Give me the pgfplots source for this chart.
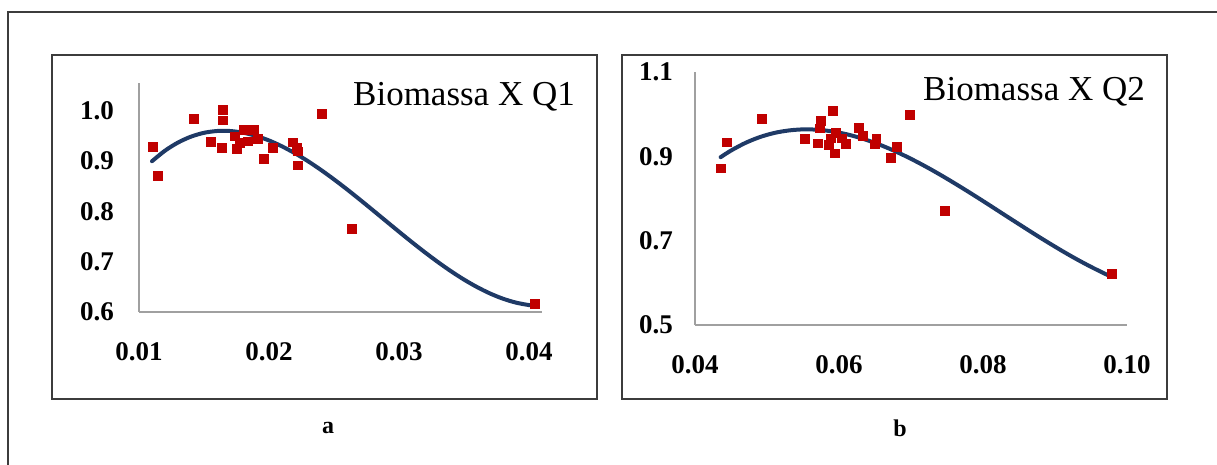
\documentclass[border=0pt]{standalone}
\usepackage{pgfplots}
\pgfplotsset{compat=1.18}
\usepackage{fontspec}
\setmainfont{Liberation Serif}
\definecolor{framec}{HTML}{3C3C3C}
\definecolor{axisgray}{HTML}{A0A0A0}
\definecolor{ptred}{HTML}{C00000}
\definecolor{curvec}{HTML}{1F3A66}
\pgfplotsset{
  panel/.style={
    scale only axis,
    anchor=south west,
    axis lines=left,
    axis line style={axisgray, line width=0.6pt, -},
    major tick length=0pt,
    scaled x ticks=false, scaled y ticks=false,
    ticklabel style={font=\bfseries\fontsize{13.5}{14}\selectfont, text=black},
    clip=false,
  },
  pts/.style={only marks, mark=square*, mark size=2.2pt, mark options={fill=ptred, draw=ptred, line width=0pt}},
  fit/.style={curvec, line width=2pt, smooth, no marks, line cap=round},
}
\begin{document}
\begin{tikzpicture}
\path[use as bounding box] (0,0) rectangle (608.5pt,232.5pt);
\draw[framec, line width=0.8pt] (4pt,-10pt) rectangle (620pt,226.5pt);
\draw[framec, line width=0.8pt] (26pt,33pt) rectangle (298.5pt,205pt);
\draw[framec, line width=0.8pt] (311pt,33pt) rectangle (583.5pt,205pt);

\begin{axis}[panel,
  at={(69.5pt,76.5pt)}, width=201.5pt, height=114.5pt,
  xmin=0.01, xmax=0.041, ymin=0.6, ymax=1.055,
  xtick={0.01,0.02,0.03,0.04}, xticklabels={0.01,0.02,0.03,0.04},
  ytick={0.6,0.7,0.8,0.9,1.0}, yticklabels={0.6,0.7,0.8,0.9,1.0},
  xticklabel style={yshift=-11.5pt},
  yticklabel style={xshift=-9pt},
]
\addplot[fit] coordinates {
(0.011,0.8996) (0.012,0.9205) (0.013,0.9367) (0.014,0.9484) (0.015,0.9560)
(0.016,0.9596) (0.017,0.9596) (0.018,0.9563) (0.019,0.9499) (0.020,0.9408)
(0.021,0.9291) (0.022,0.9153) (0.023,0.8996) (0.024,0.8822) (0.025,0.8635)
(0.026,0.8437) (0.027,0.8231) (0.028,0.8020) (0.029,0.7807) (0.030,0.7595)
(0.031,0.7386) (0.032,0.7184) (0.033,0.6991) (0.034,0.6810) (0.035,0.6644)
(0.036,0.6496) (0.037,0.6368) (0.038,0.6264) (0.039,0.6186) (0.040,0.6137)
(0.04044,0.6125)};
\addplot[pts] coordinates {
(0.01105,0.9274) (0.01146,0.8704) (0.01423,0.9831) (0.01551,0.9374) (0.01649,1.0016)
(0.01649,0.9803) (0.01636,0.9254) (0.01751,0.9235) (0.01738,0.9486) (0.01808,0.9618)
(0.01885,0.9618) (0.01841,0.9386) (0.01777,0.9353) (0.01918,0.9433) (0.01962,0.9036)
(0.02033,0.9254) (0.02182,0.9366) (0.02213,0.9254) (0.02225,0.9187) (0.02221,0.8909)
(0.02405,0.9930) (0.02636,0.7644) (0.04044,0.6153)};
\end{axis}

\begin{axis}[panel,
  at={(347.5pt,70pt)}, width=216pt, height=126.5pt,
  xmin=0.04, xmax=0.10, ymin=0.5, ymax=1.1,
  xtick={0.04,0.06,0.08,0.10}, xticklabels={0.04,0.06,0.08,0.10},
  ytick={0.5,0.7,0.9,1.1}, yticklabels={0.5,0.7,0.9,1.1},
  xticklabel style={yshift=-11.5pt},
  yticklabel style={xshift=-7.5pt},
]
\addplot[fit] coordinates {
(0.04356,0.8980) (0.045,0.9137) (0.047,0.9318) (0.049,0.9456) (0.051,0.9554)
(0.053,0.9613) (0.055,0.9639) (0.057,0.9631) (0.059,0.9593) (0.061,0.9526)
(0.063,0.9434) (0.065,0.9318) (0.067,0.9181) (0.069,0.9025) (0.071,0.8853)
(0.073,0.8667) (0.075,0.8469) (0.077,0.8262) (0.079,0.8049) (0.081,0.7831)
(0.083,0.7610) (0.085,0.7391) (0.087,0.7173) (0.089,0.6961) (0.091,0.6756)
(0.093,0.6561) (0.095,0.6379) (0.097,0.6210) (0.0979,0.6140)};
\addplot[pts] coordinates {
(0.04356,0.8710) (0.04443,0.9326) (0.04934,0.9879) (0.05533,0.9405) (0.05706,0.9303)
(0.05755,0.9839) (0.05733,0.9658) (0.05863,0.9263) (0.05884,0.9421) (0.05922,1.0068)
(0.05944,0.9066) (0.05955,0.9555) (0.06100,0.9287) (0.06041,0.9421) (0.06273,0.9674)
(0.06333,0.9484) (0.06522,0.9405) (0.06505,0.9279) (0.06721,0.8963) (0.06802,0.9224)
(0.06991,0.9989) (0.07477,0.7700) (0.09788,0.6200)};
\end{axis}

\node[font=\fontsize{17.5}{18}\selectfont] at (232pt,184pt) {Biomassa X Q1};
\node[font=\fontsize{17.5}{18}\selectfont] at (517pt,186.7pt) {Biomassa X Q2};
\node[font=\bfseries\fontsize{12}{13}\selectfont] at (164pt,18.5pt) {a};
\node[font=\bfseries\fontsize{12}{13}\selectfont] at (450pt,18.5pt) {b};
\end{tikzpicture}
\end{document}
